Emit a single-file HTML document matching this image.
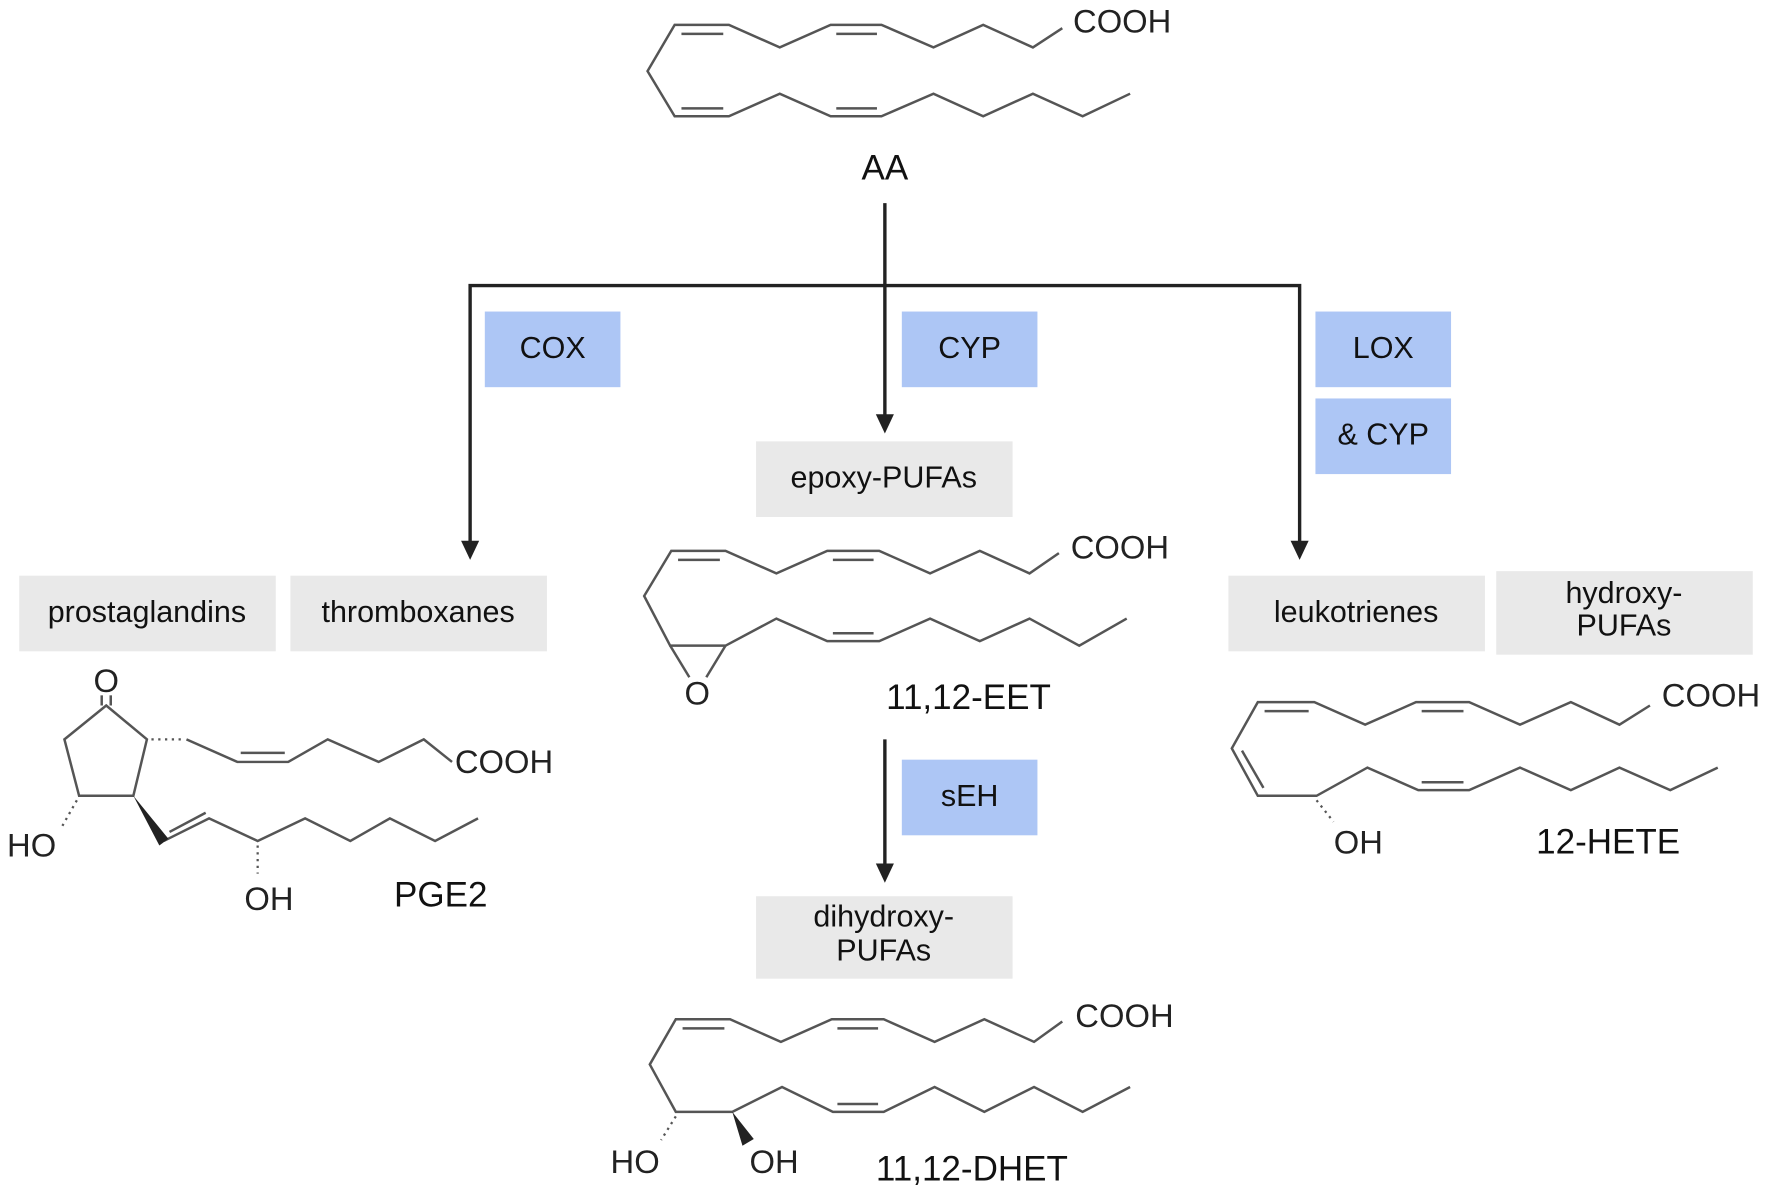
<!DOCTYPE html>
<html><head><meta charset="utf-8"><style>html,body{margin:0;padding:0;background:#fff}svg{display:block}</style></head><body>
<svg width="1772" height="1192" viewBox="0 0 1568 1056" preserveAspectRatio="none" xmlns="http://www.w3.org/2000/svg" font-family="Liberation Sans, sans-serif">
<g fill="none" stroke="#555" stroke-width="2.2">
<polyline points="940,25 914,42 870,22 826,42 780,22 735,22 690,42 645,22 597,22 573,63 597,103 645,103 690,83 735,103 780,103 826,83 870,103 914,83 958,103 1000,83"/>
<line x1="603" y1="30" x2="640" y2="30"/><line x1="740" y1="30" x2="776" y2="30"/><line x1="603" y1="96" x2="640" y2="96"/><line x1="740" y1="96" x2="776" y2="96"/>
<polyline points="937,490 911,508 867,488 823,508 778,488 732,488 687,508 642,488 594,488 570,528 593,572 642,572 687,548 732,568 778,568 823,548 867,568 911,548 955,572 997,548"/>
<polyline points="593,572 610,600"/><polyline points="642,572 625,600"/>
<line x1="600" y1="496" x2="637" y2="496"/><line x1="737" y1="496" x2="773" y2="496"/><line x1="737" y1="561" x2="773" y2="561"/>
<polyline points="940,905 915,923 871,903 827,923 782,903 736,903 691,923 646,903 598,903 575,943 598,985 648,985 692,963 737,985 782,985 827,963 871,985 915,963 958,985 1000,963"/>
<line x1="604" y1="911" x2="641" y2="911"/><line x1="741" y1="911" x2="777" y2="911"/><line x1="741" y1="978" x2="777" y2="978"/>
<polyline points="1460,625 1433,642 1390,622 1345,642 1300,622 1253,622 1208,642 1163,622 1113,622 1090,663 1113,705 1165,705 1210,680 1255,700 1300,700 1345,680 1390,700 1433,680 1478,700 1520,680"/>
<line x1="1119" y1="630" x2="1158" y2="630"/><line x1="1258" y1="630" x2="1295" y2="630"/><line x1="1258" y1="693" x2="1295" y2="693"/><line x1="1099" y1="665" x2="1118" y2="698"/>
<polygon points="94,625 130,655 118,705 70,705 57,655"/>
<line x1="90" y1="625" x2="90" y2="616"/><line x1="98" y1="625" x2="98" y2="616"/>
<polyline points="165,655 210,675 255,675 290,655 335,675 375,655 400,675"/>
<line x1="213" y1="667" x2="252" y2="667"/>
<polyline points="145,745 185,725 228,745 270,725 310,745 345,725 385,745 423,725"/>
<line x1="150" y1="737" x2="182" y2="720"/>
</g>
<g stroke="#555" stroke-width="2" stroke-dasharray="2,4">
<line x1="134" y1="655" x2="163" y2="655"/><line x1="68" y1="709" x2="55" y2="732"/><line x1="228" y1="749" x2="228" y2="774"/><line x1="1165" y1="709" x2="1180" y2="728"/><line x1="598" y1="989" x2="585" y2="1010"/>
</g>
<polygon points="118,705 141,749 149,743" fill="#222"/>
<polygon points="648,985 657,1015 667,1009" fill="#222"/>
<g stroke="#222" stroke-width="3" fill="none">
<line x1="783" y1="180" x2="783" y2="370"/>
<polyline points="416,482 416,253 1150,253 1150,482"/>
<line x1="783" y1="655" x2="783" y2="768"/>
</g>
<g fill="#222">
<polygon points="775,367 791,367 783,384"/>
<polygon points="408,479 424,479 416,496"/>
<polygon points="1142,479 1158,479 1150,496"/>
<polygon points="775,765 791,765 783,782"/>
</g>
<g fill="#adc6f5">
<rect x="429" y="276" width="120" height="67"/><rect x="798" y="276" width="120" height="67"/><rect x="1164" y="276" width="120" height="67"/><rect x="1164" y="353" width="120" height="67"/><rect x="798" y="673" width="120" height="67"/>
</g>
<g fill="#e9e9e9">
<rect x="669" y="391" width="227" height="67"/><rect x="17" y="510" width="227" height="67"/><rect x="257" y="510" width="227" height="67"/><rect x="1087" y="510" width="227" height="67"/><rect x="1324" y="506" width="227" height="74"/><rect x="669" y="794" width="227" height="73"/>
</g>
<g fill="#111" font-size="27" text-anchor="middle">
<text x="489" y="317">COX</text><text x="858" y="317">CYP</text><text x="1224" y="317">LOX</text><text x="1224" y="394">&amp; CYP</text><text x="858" y="714">sEH</text>
<text x="782" y="432">epoxy-PUFAs</text><text x="130" y="551">prostaglandins</text><text x="370" y="551">thromboxanes</text><text x="1200" y="551">leukotrienes</text>
<text x="1437" y="534">hydroxy-</text><text x="1437" y="563">PUFAs</text>
<text x="782" y="821">dihydroxy-</text><text x="782" y="851">PUFAs</text>
</g>
<g fill="#111" font-size="31" text-anchor="middle">
<text x="783" y="159">AA</text><text x="857" y="628">11,12-EET</text><text x="860" y="1046">11,12-DHET</text><text x="1423" y="756">12-HETE</text><text x="390" y="803">PGE2</text>
</g>
<g fill="#222" font-size="29" text-anchor="middle">
<text x="993" y="29">COOH</text><text x="991" y="495">COOH</text><text x="995" y="910">COOH</text><text x="1514" y="626">COOH</text><text x="446" y="685">COOH</text>
<text x="617" y="624">O</text><text x="94" y="613">O</text><text x="28" y="759">HO</text><text x="238" y="806">OH</text><text x="1202" y="756">OH</text><text x="562" y="1039">HO</text><text x="685" y="1039">OH</text>
</g>
</svg>
</body></html>
